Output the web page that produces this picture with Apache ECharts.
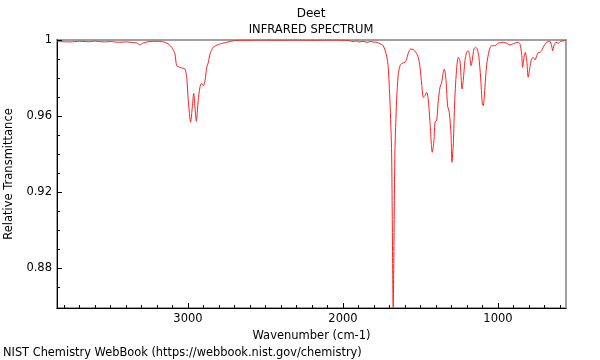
<!DOCTYPE html>
<html><head><meta charset="utf-8">
<script src="https://cdn.jsdelivr.net/npm/echarts@6/dist/echarts.min.js"></script>
<style>html,body{margin:0;padding:0;background:#fff}#c{width:600px;height:360px}</style>
</head><body><div id="c"></div>
<script>
const wavenumbers = [3845,3760,3700,3640,3600,3540,3500,3450,3400,3360,3330,3310,3290,3260,3230,3181,3137,3105,3084,3073,3052,3030,3019,3008,2998,2983,2972,2963,2955,2946,2934,2923,2912,2901,2890,2879,2869,2858,2837,2805,2794,2750,2686,2600,2500,2400,2300,2200,2100,2000,1955,1935,1915,1895,1870,1845,1820,1800,1781,1761,1740,1718,1708,1697,1686,1676,1665,1654,1643,1632,1621,1600,1589,1579,1563,1546,1529,1514,1503,1492,1482,1471,1460,1450,1439,1424,1413,1406,1395,1385,1374,1363,1353,1346,1335,1325,1314,1303,1297,1288,1279,1266,1256,1245,1239,1232,1224,1213,1202,1192,1181,1174,1166,1155,1144,1134,1123,1112,1101,1095,1084,1073,1056,1041,1019,998,966,944,923,905,890,869,858,847,841,832,824,815,805,794,783,772,761,750,740,729,718,708,686,665,654,647,639,626,611,595,578,561];
const transmittance = [0.9992,0.9990,0.9993,0.9991,0.9994,0.9990,0.9992,0.9988,0.9990,0.9987,0.9984,0.9975,0.9984,0.9990,0.9993,0.9993,0.9984,0.9962,0.9926,0.9865,0.9856,0.9851,0.9847,0.9804,0.9681,0.9567,0.9647,0.9719,0.9647,0.9572,0.9681,0.9751,0.9772,0.9759,0.9786,0.9856,0.9880,0.9926,0.9962,0.9976,0.9979,0.9988,0.9998,0.9999,1.0,0.9999,1.0,0.9999,1.0,0.9999,0.9996,0.9991,0.9995,0.9990,0.9993,0.9988,0.9992,0.9989,0.9988,0.9980,0.9970,0.9915,0.9856,0.9680,0.9400,0.8590,0.9400,0.9680,0.9820,0.9865,0.9877,0.9883,0.9900,0.9930,0.9953,0.9949,0.9935,0.9909,0.9856,0.9768,0.9698,0.9707,0.9725,0.9689,0.9575,0.9409,0.9470,0.9567,0.9579,0.9681,0.9751,0.9777,0.9830,0.9847,0.9786,0.9654,0.9619,0.9505,0.9356,0.9453,0.9681,0.9856,0.9909,0.9891,0.9821,0.9742,0.9786,0.9891,0.9935,0.9944,0.9909,0.9865,0.9891,0.9953,0.9962,0.9953,0.9909,0.9804,0.9663,0.9654,0.9751,0.9870,0.9947,0.9970,0.9970,0.9984,0.9988,0.9983,0.9974,0.9979,0.9984,0.9988,0.9979,0.9926,0.9856,0.9909,0.9935,0.9900,0.9804,0.9856,0.9900,0.9909,0.9895,0.9917,0.9935,0.9935,0.9944,0.9962,0.9988,0.9993,0.9970,0.9944,0.9970,0.9988,0.9983,0.9993,0.9996,1.0];
const xMajorTicks = [1000, 2000, 3000];
const xMinorTicks = [600,700,800,900,1100,1200,1300,1400,1500,1600,1700,1800,1900,2100,2200,2300,2400,2500,2600,2700,2800,2900,3100,3200,3300,3400,3500,3600,3700,3800];
const yMajorTicks = [0.88, 0.92, 0.96, 1];
const yMinorTicks = [0.87,0.89,0.90,0.91,0.93,0.94,0.95,0.97,0.98,0.99];
const xRange = [561, 3845];
const yRange = [0.8589, 1];

const FONT = 'DejaVu Sans';
const chart = echarts.init(document.getElementById('c'), null, {renderer: 'canvas'});
const baseX = {
  type: 'value', inverse: true, min: xRange[0], max: xRange[1], position: 'bottom',
  splitLine: {show: false}
};
const baseY = {
  type: 'value', min: yRange[0], max: yRange[1], position: 'left',
  splitLine: {show: false}
};
chart.setOption({
  animation: false,
  textStyle: {fontFamily: FONT},
  grid: {left: 57, right: 34, top: 40, bottom: 52, show: true, borderColor: '#a0a0a0', borderWidth: 2,
    containLabel: false, outerBoundsMode: 'none'},
  graphic: [
    {type: 'text', style: {text: 'Deet', x: 311, y: 14, align: 'center', verticalAlign: 'middle', font: '12px "DejaVu Sans"', fill: '#000'}},
    {type: 'text', style: {text: 'INFRARED SPECTRUM', x: 311, y: 30, align: 'center', verticalAlign: 'middle', font: '11.5px "DejaVu Sans"', fill: '#000'}},
    {type: 'text', style: {text: 'NIST Chemistry WebBook (https://webbook.nist.gov/chemistry)', x: 3, y: 353, align: 'left', verticalAlign: 'middle', font: '11.4px "DejaVu Sans"', fill: '#000'}}
  ],
  xAxis: [
    Object.assign({}, baseX, {
      name: 'Wavenumber (cm-1)', nameLocation: 'middle', nameGap: 18,
      nameTextStyle: {fontFamily: FONT, fontSize: 11.5, color: '#000'},
      axisLine: {show: true, lineStyle: {color: '#000', width: 1}},
      axisTick: {show: true, inside: true, length: 5, customValues: xMajorTicks, lineStyle: {color: '#000'}},
      axisLabel: {show: true, customValues: xMajorTicks, margin: 5, fontFamily: FONT, fontSize: 11.5, color: '#000',
        formatter: v => String(Math.round(v))}
    }),
    Object.assign({}, baseX, {
      axisLine: {show: false},
      axisTick: {show: true, inside: true, length: 3, customValues: xMinorTicks, lineStyle: {color: '#000'}},
      axisLabel: {show: false}
    })
  ],
  yAxis: [
    Object.assign({}, baseY, {
      name: 'Relative Transmittance', nameLocation: 'middle', nameGap: 40,
      nameTextStyle: {fontFamily: FONT, fontSize: 11.5, color: '#000'},
      axisLine: {show: true, lineStyle: {color: '#000', width: 1}},
      axisTick: {show: true, inside: true, length: 5, customValues: yMajorTicks, lineStyle: {color: '#000'}},
      axisLabel: {show: true, customValues: yMajorTicks, margin: 5, fontFamily: FONT, fontSize: 11.5, color: '#000',
        formatter: v => (Math.abs(v - 1) < 1e-9 ? '1' : String(+v.toFixed(2)))}
    }),
    Object.assign({}, baseY, {
      axisLine: {show: false},
      axisTick: {show: true, inside: true, length: 3, customValues: yMinorTicks, lineStyle: {color: '#000'}},
      axisLabel: {show: false}
    })
  ],
  series: [{
    type: 'line', xAxisIndex: 0, yAxisIndex: 0,
    data: wavenumbers.map((w, i) => [w, transmittance[i]]),
    showSymbol: false, symbol: 'none', smooth: 0.25, clip: true,
    lineStyle: {color: '#ff2020', width: 1}
  }]
});
</script></body></html>
